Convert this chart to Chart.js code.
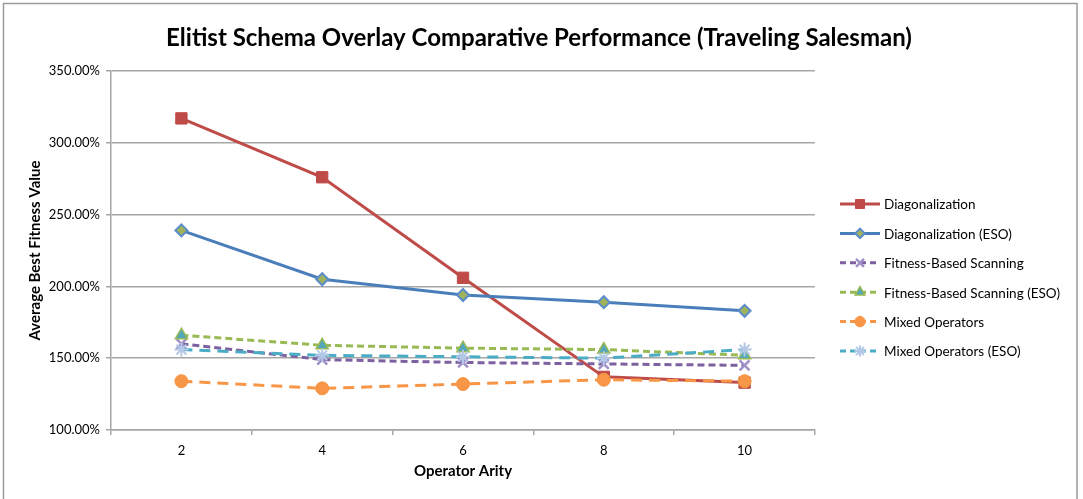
<!DOCTYPE html>
<html>
<head>
<meta charset="utf-8">
<script src="https://cdn.jsdelivr.net/npm/chart.js@4/dist/chart.umd.min.js"></script>
<style>
  html, body { margin: 0; padding: 0; background: #fff; }
  #wrap { width: 1083px; height: 499px; position: relative; }
</style>
</head>
<body>
<div id="wrap"><canvas id="c" width="1083" height="499"></canvas></div>
<script>
// Operator arity on the x axis
const arity = ['2', '4', '6', '8', '10'];

// Average best fitness value (%) per series
const diagonalization      = [317, 276, 206, 137, 133];
const diagonalizationESO   = [239, 205, 194, 189, 183];
const fitnessScanning      = [160, 149, 147, 146, 145];
const fitnessScanningESO   = [166, 159, 157, 156, 152];
const mixedOperators       = [134, 129, 132, 135, 134];
const mixedOperatorsESO    = [156, 152, 151, 150, 156];

const seriesNames = [
  'Diagonalization',
  'Diagonalization (ESO)',
  'Fitness-Based Scanning',
  'Fitness-Based Scanning (ESO)',
  'Mixed Operators',
  'Mixed Operators (ESO)'
];

const chartTitle = 'Elitist Schema Overlay Comparative Performance (Traveling Salesman)';
const yTicks = { min: 100, max: 350, step: 50 };

const FONT = 'Lato, "Open Sans", sans-serif';
const GRID = '#a6a6a6';

function series(i, data, color, dash, point) {
  return Object.assign({
    label: seriesNames[i],
    data: data,
    borderColor: color,
    backgroundColor: color,
    borderWidth: 3,
    borderDash: dash,
    tension: 0,
    fill: false,
    order: 6 - i,
    pointRadius: 6,
    pointHoverRadius: 6,
    pointBorderWidth: 1,
    pointBackgroundColor: color,
    pointBorderColor: color
  }, point);
}

const datasets = [
  series(0, diagonalization, '#BE4B48', [], { pointStyle: 'rect', pointRadius: 8 }),
  series(1, diagonalizationESO, '#4A7EBB', [], {
    pointStyle: 'rectRot', pointRadius: 6, pointBorderWidth: 2,
    pointBackgroundColor: '#9fb35a', pointBorderColor: '#5b8ccc'
  }),
  series(2, fitnessScanning, '#7D60A0', [7, 4], {
    pointStyle: 'crossRot', pointRadius: 7, pointBorderWidth: 2.5,
    pointBackgroundColor: '#9d8cc2', pointBorderColor: '#a090c8'
  }),
  series(3, fitnessScanningESO, '#98B954', [7, 4], {
    pointStyle: 'triangle', pointRadius: 7, pointBorderWidth: 1.5,
    pointBackgroundColor: '#52a8b8', pointBorderColor: '#98B954'
  }),
  series(4, mixedOperators, '#F79646', [11, 7], { pointStyle: 'circle', pointRadius: 6.5 }),
  series(5, mixedOperatorsESO, '#4BACC6', [11, 7], {
    pointStyle: 'star', pointRadius: 7, pointBorderWidth: 2,
    pointBackgroundColor: '#b3c8e6', pointBorderColor: '#b3c8e6'
  })
];

// Chart title, centred across the full canvas width
const centredTitle = {
  id: 'centredTitle',
  afterDraw(chart) {
    const ctx = chart.ctx;
    ctx.save();
    ctx.fillStyle = '#000';
    ctx.font = 'bold 24px ' + FONT;
    ctx.textAlign = 'center';
    ctx.textBaseline = 'middle';
    ctx.fillText(chartTitle, 539, 38);
    ctx.restore();
  }
};

// Legend with a line sample and marker for each series
const lineLegend = {
  id: 'lineLegend',
  afterDraw(chart) {
    const ctx = chart.ctx;
    const x0 = 840, x1 = 880, textX = 884, top = 204, gap = 29.4;
    chart.data.datasets.forEach((ds, i) => {
      const y = top + i * gap;
      ctx.save();
      ctx.strokeStyle = ds.borderColor;
      ctx.lineWidth = ds.borderWidth;
      ctx.setLineDash(ds.borderDash.length ? [6, 4] : []);
      ctx.beginPath();
      ctx.moveTo(x0, y);
      ctx.lineTo(x1, y);
      ctx.stroke();
      ctx.setLineDash([]);
      ctx.fillStyle = ds.pointBackgroundColor;
      ctx.strokeStyle = ds.pointBorderColor;
      ctx.lineWidth = ds.pointBorderWidth;
      Chart.helpers.drawPoint(ctx, {
        pointStyle: ds.pointStyle,
        radius: ds.pointRadius * 0.8,
        rotation: 0,
        borderWidth: ds.pointBorderWidth
      }, (x0 + x1) / 2, y);
      ctx.fillStyle = '#000';
      ctx.font = '13.5px ' + FONT;
      ctx.textAlign = 'left';
      ctx.textBaseline = 'middle';
      ctx.fillText(ds.label, textX, y + 1);
      ctx.restore();
    });
  }
};

// Thin frame round the whole chart
const frame = {
  id: 'frame',
  beforeDraw(chart) {
    const ctx = chart.ctx;
    ctx.save();
    ctx.fillStyle = '#fff';
    ctx.fillRect(0, 0, chart.width, chart.height);
    ctx.strokeStyle = '#9a9a9a';
    ctx.lineWidth = 1.5;
    ctx.strokeRect(3.5, 3.5, 1073.5, 505);
    ctx.restore();
  }
};

new Chart(document.getElementById('c'), {
  type: 'line',
  data: { labels: arity, datasets: datasets },
  options: {
    responsive: false,
    animation: false,
    layout: { padding: { left: 0, right: 268, top: 71, bottom: 0 } },
    plugins: {
      legend: { display: false },
      tooltip: { enabled: false },
      title: { display: false }
    },
    scales: {
      x: {
        type: 'category',
        offset: true,
        afterFit(scale) { scale.height = 69; },
        grid: {
          offset: true,
          drawOnChartArea: false,
          color: GRID,
          lineWidth: 1.5,
          tickLength: 5
        },
        border: { color: GRID, width: 1.5 },
        ticks: { color: '#000', font: { family: FONT, size: 13 }, padding: 8 },
        title: {
          display: true,
          text: 'Operator Arity',
          color: '#000',
          font: { family: FONT, size: 15, weight: 'bold' },
          padding: { top: 0, bottom: 19 }
        }
      },
      y: {
        min: yTicks.min,
        max: yTicks.max,
        afterFit(scale) { scale.width = 111; },
        grid: { color: GRID, lineWidth: 1.5, tickLength: 5 },
        border: { color: GRID, width: 1.5 },
        ticks: {
          stepSize: yTicks.step,
          color: '#000',
          font: { family: FONT, size: 13 },
          padding: 6,
          callback: v => v.toFixed(2) + '%'
        },
        title: {
          display: true,
          text: 'Average Best Fitness Value',
          color: '#000',
          font: { family: FONT, size: 15, weight: 'bold' },
          padding: { top: 26, bottom: 0 }
        }
      }
    }
  },
  plugins: [frame, centredTitle, lineLegend]
});
</script>
</body>
</html>
